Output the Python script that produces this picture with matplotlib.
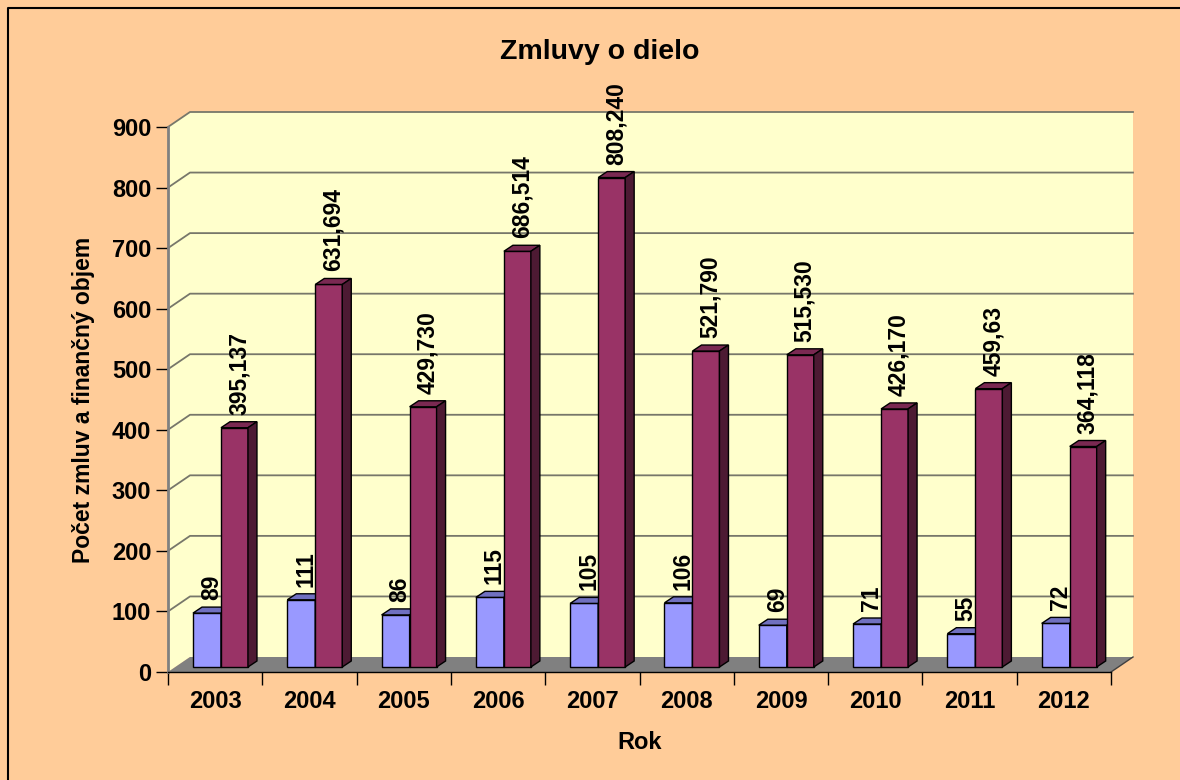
import numpy as np
import matplotlib
matplotlib.use("Agg")
import matplotlib.pyplot as plt
from matplotlib.patches import Polygon
from matplotlib.lines import Line2D

plt.rcParams['font.family'] = ['Liberation Sans', 'DejaVu Sans']
plt.rcParams['font.weight'] = 'bold'

# data
years = ['2003', '2004', '2005', '2006', '2007', '2008', '2009', '2010', '2011', '2012']
pocet = [89, 111, 86, 115, 105, 106, 69, 71, 55, 72]
objem = [395.137, 631.694, 429.730, 686.514, 808.240, 521.790, 515.530, 426.170, 459.63, 364.118]
objem_labels = ['395,137', '631,694', '429,730', '686,514', '808,240',
                '521,790', '515,530', '426,170', '459,63', '364,118']
yticks = [0, 100, 200, 300, 400, 500, 600, 700, 800, 900]

W, H = 1180, 780
fig = plt.figure(figsize=(W / 100, H / 100), dpi=100)
fig.patch.set_facecolor('#FFCC99')

# front plane of the plot in pixels
x0, x1, y0, y1 = 168, 1111, 672, 127
ax = fig.add_axes([x0 / W, (H - y0) / H, (x1 - x0) / W, (y0 - y1) / H])
ax.set_xlim(0, 10)
ax.set_ylim(0, 900)
ax.patch.set_visible(False)

kx = (x1 - x0) / 10.0
ky = (y0 - y1) / 900.0
DX, DY = 22 / kx, 15 / ky          # depth of the whole plot
bdx, bdy = 9 / kx, 6 / ky          # depth of one bar
sy = 5 / ky                        # bars stand a bit behind the front

wall = '#FFFFCC'
# side and back wall
ax.add_patch(Polygon([(0, 0), (DX, DY), (DX, 900 + DY), (0, 900)], closed=True,
                     facecolor=wall, edgecolor='none', clip_on=False, zorder=0))
ax.add_patch(Polygon([(DX, DY), (10 + DX, DY), (10 + DX, 900 + DY), (DX, 900 + DY)], closed=True,
                     facecolor=wall, edgecolor='none', clip_on=False, zorder=0))
# floor
ax.add_patch(Polygon([(0, 0), (10, 0), (10 + DX, DY), (DX, DY)], closed=True,
                     facecolor='#808080', edgecolor='none', clip_on=False, zorder=1))
ax.plot([10, 10 + DX], [0, DY], color='#404040', lw=1, clip_on=False, zorder=1)

# gridlines
for v in yticks[1:]:
    ax.plot([0, DX, 10 + DX], [v, v + DY, v + DY], color='#77776a', lw=1.3,
            clip_on=False, zorder=1)


def bar3d(xl, xr, v, cf, ct, cs):
    b = sy
    t = v + sy
    ax.add_patch(Polygon([(xl, b), (xr, b), (xr, t), (xl, t)], closed=True,
                         facecolor=cf, edgecolor='black', lw=1, clip_on=False, zorder=3))
    ax.add_patch(Polygon([(xl, t), (xr, t), (xr + bdx, t + bdy), (xl + bdx, t + bdy)], closed=True,
                         facecolor=ct, edgecolor='black', lw=1, clip_on=False, zorder=3))
    ax.add_patch(Polygon([(xr, b), (xr + bdx, b + bdy), (xr + bdx, t + bdy), (xr, t)], closed=True,
                         facecolor=cs, edgecolor='black', lw=1, clip_on=False, zorder=3))


lab_gap = 7 / ky
for i in range(len(years)):
    bl, bm, br = i + 0.265, i + 0.562, i + 0.848
    bar3d(bl, bm, pocet[i], '#9999FF', '#7070C0', '#4d4d99')
    bar3d(bm, br, objem[i], '#993366', '#7A2952', '#4D1A33')
    ax.text((bl + bm) / 2 + bdx / 2, pocet[i] + sy + bdy + lab_gap, str(pocet[i]),
            rotation=90, ha='center', va='bottom', fontsize=16.5, fontweight='bold', zorder=4)
    ax.text((bm + br) / 2 + bdx / 2, objem[i] + sy + bdy + lab_gap, objem_labels[i],
            rotation=90, ha='center', va='bottom', fontsize=16.5, fontweight='bold', zorder=4)

# axes
for s in ['top', 'right']:
    ax.spines[s].set_visible(False)
ax.spines['left'].set_color('#808080')
ax.spines['left'].set_linewidth(2)
ax.spines['bottom'].set_color('black')
ax.spines['bottom'].set_linewidth(1)
ax.set_yticks(yticks)
ax.set_yticklabels([str(v) for v in yticks], fontsize=17, fontweight='bold')
ax.tick_params(axis='y', direction='out', length=9, width=1, color='black', pad=3)
ax.set_xticks(np.arange(10) + 0.5)
ax.set_xticklabels(years, fontsize=17, fontweight='bold')
ax.set_xticks(np.arange(11), minor=True)
ax.tick_params(axis='x', which='major', length=0, pad=13)
ax.tick_params(axis='x', which='minor', direction='out', length=9, width=1, color='black')

ax.set_xlabel('Rok', fontsize=17, fontweight='bold', labelpad=13)
ax.set_ylabel('Počet zmluv a finančný objem', fontsize=16.5, fontweight='bold', labelpad=12)

fig.text(600 / W, 1 - 52 / H, 'Zmluvy o dielo', ha='center', va='center',
         fontsize=20.5, fontweight='bold')

# chart area border (top and left visible)
fig.add_artist(Line2D([8 / W, 8 / W, 1], [0, 1 - 8 / H, 1 - 8 / H],
                      transform=fig.transFigure, color='black', lw=1.5))

fig.savefig('out.png', dpi=100, facecolor=fig.get_facecolor())
